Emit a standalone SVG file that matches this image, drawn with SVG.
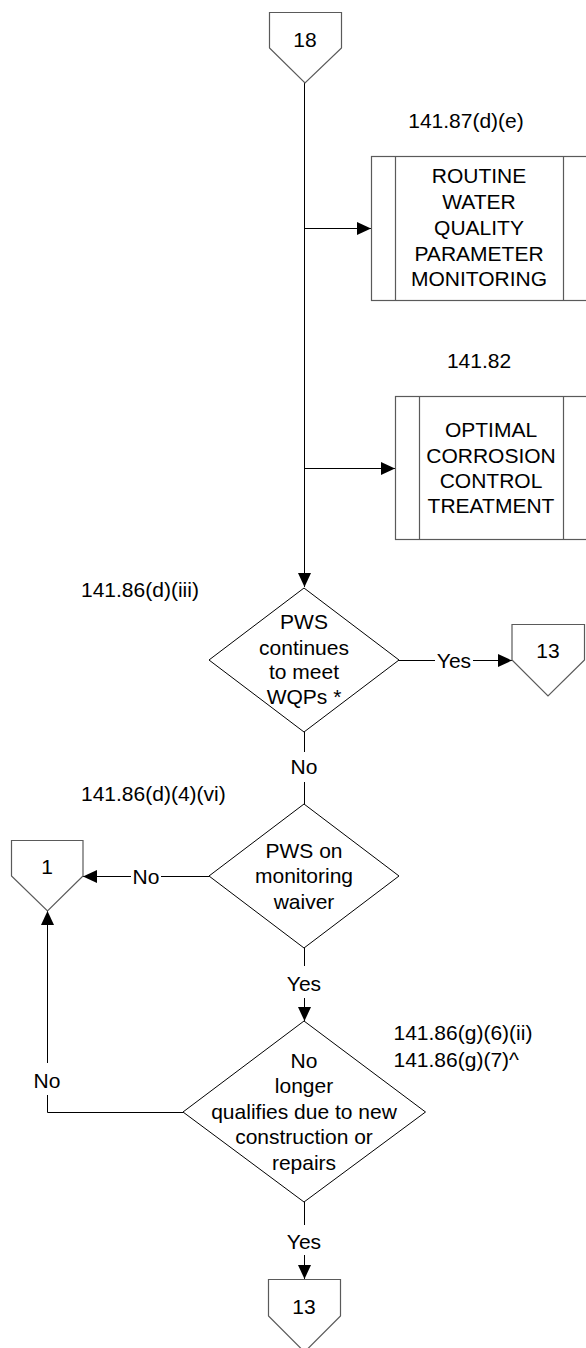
<svg xmlns="http://www.w3.org/2000/svg" width="586" height="1348" viewBox="0 0 586 1348">
<style>
text{font-family:"Liberation Sans",Arial,sans-serif;font-size:21px;fill:#000}
.m{text-anchor:middle}
.s{text-anchor:start}
.box{fill:#fff;stroke:#5a5a5a;stroke-width:1.2}
.dia{fill:#fff;stroke:#000;stroke-width:1}
.ln{fill:none;stroke:#000;stroke-width:1}
</style>
<defs>
<marker id="ah" markerUnits="userSpaceOnUse" markerWidth="14" markerHeight="13" refX="14" refY="6.5" orient="auto">
<path d="M0,0 L14,6.5 L0,13 z" fill="#000"/>
</marker>
</defs>
<g id="connectors">
<path class="ln" d="M304.5,83 V587" marker-end="url(#ah)"/>
<path class="ln" d="M304.5,228.5 H371" marker-end="url(#ah)"/>
<path class="ln" d="M304.5,468.5 H395" marker-end="url(#ah)"/>
<path class="ln" d="M398,660.5 H435"/>
<path class="ln" d="M473,660.5 H512" marker-end="url(#ah)"/>
<text class="m" x="454" y="668">Yes</text>
<path class="ln" d="M304.5,732 V752"/>
<text class="m" x="304" y="774">No</text>
<path class="ln" d="M304.5,782 V804"/>
<path class="ln" d="M209,876.5 H161"/>
<path class="ln" d="M131,876.5 H83" marker-end="url(#ah)"/>
<text class="m" x="146" y="884">No</text>
<path class="ln" d="M304.5,948 V966"/>
<text class="m" x="304" y="991">Yes</text>
<path class="ln" d="M304.5,998 V1021" marker-end="url(#ah)"/>
<path class="ln" d="M183,1112.5 H47.5 V1095"/>
<text class="m" x="47" y="1088">No</text>
<path class="ln" d="M47.5,1063 V911" marker-end="url(#ah)"/>
<path class="ln" d="M304.5,1202 V1225"/>
<text class="m" x="304" y="1249">Yes</text>
<path class="ln" d="M304.5,1255 V1279" marker-end="url(#ah)"/>
</g>
<g id="off18">
<path class="box" d="M269.5,12.5 H341.5 V48 L305,83 L269.5,48 Z"/>
<text class="m" x="305" y="47">18</text>
</g>
<g id="label-14187">
<text class="m" x="466" y="128">141.87(d)(e)</text>
</g>
<g id="proc-routine">
<rect class="box" x="371.5" y="156.5" width="216" height="144"/>
<path class="box" d="M395.5,156.5 V300.5 M563.5,156.5 V300.5"/>
<text class="m" x="479" y="182.5">ROUTINE</text>
<text class="m" x="479" y="209">WATER</text>
<text class="m" x="479" y="234.5">QUALITY</text>
<text class="m" x="479" y="260.5">PARAMETER</text>
<text class="m" x="479" y="286">MONITORING</text>
</g>
<g id="label-14182">
<text class="m" x="479" y="367.5">141.82</text>
</g>
<g id="proc-occt">
<rect class="box" x="395.5" y="396.5" width="192" height="143"/>
<path class="box" d="M419.5,396.5 V539.5 M563.5,396.5 V539.5"/>
<text class="m" x="491" y="436.5">OPTIMAL</text>
<text class="m" x="491" y="463">CORROSION</text>
<text class="m" x="491" y="488">CONTROL</text>
<text class="m" x="491" y="513">TREATMENT</text>
</g>
<g id="label-14186diii">
<text class="s" x="81" y="597">141.86(d)(iii)</text>
</g>
<g id="dec-meet">
<path class="dia" d="M304,588 L399,660 L304,732 L209,660 Z"/>
<text class="m" x="304" y="628.5">PWS</text>
<text class="m" x="304" y="655">continues</text>
<text class="m" x="304" y="679">to meet</text>
<text class="m" x="304" y="703.5">WQPs *</text>
</g>
<g id="off13a">
<path class="box" d="M512,624.5 H584.5 V660 L548,696 L512,660 Z"/>
<text class="m" x="548" y="657.5">13</text>
</g>
<g id="label-14186d4vi">
<text class="s" x="81" y="800.5">141.86(d)(4)(vi)</text>
</g>
<g id="dec-waiver">
<path class="dia" d="M304,804 L399,876 L304,948 L209,876 Z"/>
<text class="m" x="304" y="857.5">PWS on</text>
<text class="m" x="304" y="883">monitoring</text>
<text class="m" x="304" y="908.5">waiver</text>
</g>
<g id="off1">
<path class="box" d="M11.5,840.5 H83 V876 L47.5,911 L11.5,876 Z"/>
<text class="m" x="47" y="874">1</text>
</g>
<g id="label-14186g">
<text class="s" x="393.5" y="1040">141.86(g)(6)(ii)</text>
<text class="s" x="393.5" y="1066.5">141.86(g)(7)^</text>
</g>
<g id="dec-qualifies">
<path class="dia" d="M304,1021 L425.5,1112 L304,1202 L183,1112 Z"/>
<text class="m" x="304" y="1068">No</text>
<text class="m" x="304" y="1093">longer</text>
<text class="m" x="304" y="1119">qualifies due to new</text>
<text class="m" x="304" y="1144">construction or</text>
<text class="m" x="304" y="1169.5">repairs</text>
</g>
<g id="off13b">
<path class="box" d="M268.5,1279.5 H340.5 V1316 L304.5,1352 L268.5,1316 Z"/>
<text class="m" x="304" y="1313.5">13</text>
</g>
</svg>
